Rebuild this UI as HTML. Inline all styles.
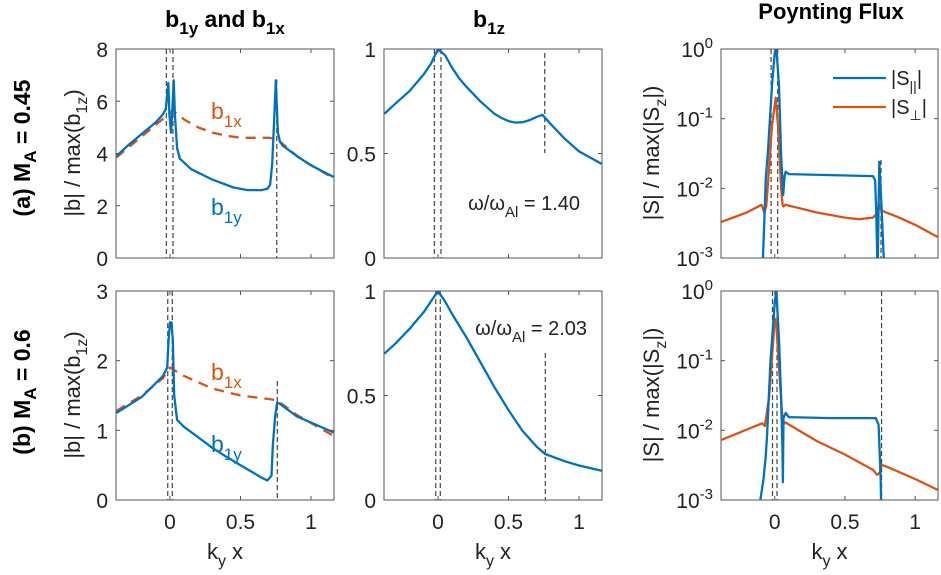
<!DOCTYPE html>
<html><head><meta charset="utf-8">
<style>
html,body{margin:0;padding:0;background:#fff;}
svg{display:block;font-family:"Liberation Sans",sans-serif;}
</style></head>
<body>
<svg id="fig" width="941" height="575" viewBox="0 0 941 575" xmlns="http://www.w3.org/2000/svg">
<g id="static">
<text x="225" y="27" font-size="23" font-weight="bold" text-anchor="middle">b<tspan font-size="17" dy="7">1y</tspan><tspan dy="-7"> and b</tspan><tspan font-size="17" dy="7">1x</tspan></text>
<text x="473" y="27" font-size="23" font-weight="bold">b<tspan font-size="17" dy="7">1z</tspan></text>
<text x="831" y="19" font-size="22" font-weight="bold" text-anchor="middle">Poynting Flux</text>
<text transform="translate(30,148) rotate(-90)" font-size="23" font-weight="bold" text-anchor="middle">(a) M<tspan font-size="17" dy="6">A</tspan><tspan dy="-6"> = 0.45</tspan></text>
<text transform="translate(30,392) rotate(-90)" font-size="23" font-weight="bold" text-anchor="middle">(b) M<tspan font-size="17" dy="6">A</tspan><tspan dy="-6"> = 0.6</tspan></text>
</g>
<g id="plots"></g>
</svg>
<script>
// ---- data ----
const xA_b1y=[-0.38,-0.3,-0.2,-0.1,-0.05,-0.03,-0.012,-0.004,0.007,0.015,0.026,0.035,0.05,0.07,0.15,0.3,0.45,0.55,0.65,0.69,0.71,0.725,0.74,0.75,0.765,0.78,0.8,0.9,1.0,1.16];
const yA_b1y=[3.9,4.3,4.75,5.2,5.5,5.7,6.7,5.5,4.8,5.5,6.8,5.5,4.2,3.8,3.4,3.0,2.7,2.6,2.6,2.65,2.8,3.6,5.5,6.8,4.8,4.45,4.3,3.9,3.55,3.1];
const xA_b1x=[-0.38,-0.2,-0.1,0,0.02,0.1,0.2,0.3,0.4,0.5,0.7,0.76,0.9,1.0,1.16];
const yA_b1x=[3.85,4.65,5.1,5.55,5.65,5.3,5.0,4.8,4.68,4.6,4.6,4.55,3.9,3.55,3.05];
const xA_b1z=[-0.38,-0.3,-0.2,-0.1,-0.05,0,0.05,0.1,0.15,0.2,0.3,0.4,0.45,0.5,0.55,0.6,0.65,0.7,0.74,0.8,0.9,1.0,1.16];
const yA_b1z=[0.69,0.74,0.8,0.88,0.93,1.0,0.97,0.91,0.86,0.82,0.75,0.69,0.67,0.655,0.648,0.65,0.66,0.675,0.685,0.64,0.57,0.51,0.45];
const xA_Spar=[-0.09,-0.075,-0.064,-0.05,-0.02,0.0,0.012,0.03,0.045,0.06,0.07,0.078,0.1,0.4,0.7,0.715,0.723,0.733,0.745,0.76,0.775,0.79];
const yA_Spar=[0.0005,0.003,0.014,0.03,0.3,0.9,1.0,0.3,0.03,0.008,0.015,0.0173,0.016,0.0155,0.015,0.013,0.005,0.0006,0.024,0.006,0.0012,0.0004];
const xA_Sperp=[-0.38,-0.2,-0.094,-0.075,-0.06,-0.04,-0.02,0.007,0.025,0.045,0.055,0.06,0.075,0.3,0.5,0.6,0.7,0.72,0.745,0.76,0.9,1.0,1.16];
const yA_Sperp=[0.0033,0.0045,0.0058,0.0045,0.0055,0.02,0.08,0.2,0.07,0.01,0.006,0.0055,0.0058,0.0045,0.0038,0.0036,0.0038,0.0042,0.0058,0.0048,0.0037,0.003,0.002];
const xB_b1y=[-0.38,-0.2,-0.05,-0.02,-0.01,0,0.01,0.02,0.03,0.05,0.1,0.2,0.3,0.4,0.5,0.6,0.65,0.69,0.72,0.73,0.745,0.76,0.78,0.9,1.16];
const yB_b1y=[1.25,1.48,1.78,1.9,2.3,2.55,2.55,2.3,1.5,1.15,1.05,0.9,0.75,0.62,0.5,0.38,0.32,0.28,0.35,0.8,1.2,1.4,1.38,1.2,0.97];
const xB_b1x=[-0.38,-0.2,-0.05,0,0.1,0.3,0.5,0.7,0.76,0.9,1.16];
const yB_b1x=[1.28,1.5,1.75,1.9,1.78,1.6,1.5,1.45,1.43,1.22,0.92];
const xB_b1z=[-0.38,-0.3,-0.2,-0.1,0,0.05,0.1,0.2,0.3,0.4,0.5,0.6,0.7,0.76,0.9,1.0,1.16];
const yB_b1z=[0.7,0.75,0.82,0.9,1.0,0.95,0.89,0.78,0.66,0.54,0.43,0.33,0.255,0.22,0.185,0.165,0.14];
const xB_Spar=[-0.106,-0.08,-0.065,-0.055,-0.03,0,0.012,0.03,0.045,0.055,0.058,0.062,0.078,0.1,0.4,0.72,0.74,0.755,0.76];
const yB_Spar=[0.0009,0.002,0.004,0.008,0.1,0.7,1.0,0.2,0.03,0.005,0.0018,0.015,0.0178,0.0155,0.015,0.015,0.012,0.002,0.0005];
const xB_Sperp=[-0.38,-0.09,-0.07,-0.04,0,0.01,0.03,0.05,0.06,0.075,0.3,0.5,0.7,0.73,0.75,0.76,0.8,1.0,1.16];
const yB_Sperp=[0.0073,0.0126,0.0115,0.03,0.4,0.35,0.08,0.02,0.012,0.013,0.007,0.0045,0.0027,0.0023,0.0025,0.0032,0.003,0.002,0.0014];
const xTickVals=[0,0.5,1];
const xTickLabels=["0","0.5","1"];
const yTicksLeftA=[0,2,4,6,8];
const yTicksLeftB=[0,1,2,3];
const yTicksMid=[0,0.5,1];
const yTicksLog=[0,-1,-2,-3];

const NS="http://www.w3.org/2000/svg";
const root=document.getElementById('plots');
const BLUE="#0072BD", RED="#D95319";
const XMIN=-0.383, XMAX=1.163;
const TF=21;
function mk(tag,attrs,parent){const e=document.createElementNS(NS,tag);for(const k in attrs)e.setAttribute(k,attrs[k]);(parent||root).appendChild(e);return e;}

function panel(id,L,R,T,B,ymin,ymax,log){
  const g=mk('g',{});
  
  
  const sx=v=>L+(v-XMIN)/(XMAX-XMIN)*(R-L);
  const sy=v=>{const t=log?Math.log10(v):v;return B-(t-ymin)/(ymax-ymin)*(B-T);};
  const cp=mk('clipPath',{id:'cp-'+id},g);
  mk('rect',{x:L,y:T,width:R-L,height:B-T},cp);
  const inner=mk('g',{'clip-path':'url(#cp-'+id+')'},g);
  return {g,inner,sx,sy,L,R,T,B,log};
}
function axes(p,yt,ylabels,showX){
  const box=mk('rect',{x:p.L,y:p.T,width:p.R-p.L,height:p.B-p.T,fill:'none',stroke:'#555','stroke-width':1},p.g);
  
  
  xTickVals.forEach((v,i)=>{const x=p.sx(v);
    mk('line',{x1:x,x2:x,y1:p.B,y2:p.B-4,stroke:'#555'},p.g);
    mk('line',{x1:x,x2:x,y1:p.T,y2:p.T+4,stroke:'#555'},p.g);
    if(showX){const t=mk('text',{x:x,y:p.B+29,'font-size':TF,'text-anchor':'middle',fill:'#222'},p.g);t.textContent=xTickLabels[i];
      
      }
  });
  yt.forEach((v,i)=>{const y=p.log?p.B-(v-(-3))/3*(p.B-p.T):p.sy(v);
    mk('line',{x1:p.L,x2:p.L+4,y1:y,y2:y,stroke:'#555'},p.g);
    mk('line',{x1:p.R,x2:p.R-4,y1:y,y2:y,stroke:'#555'},p.g);
    const t=mk('text',{x:p.L-8,y:y+8,'font-size':TF,'text-anchor':'end',fill:'#222'},p.g);
    if(p.log){t.textContent='10';const s=mk('tspan',{'font-size':15,dy:-9},t);s.textContent=String(v);}
    else t.textContent=ylabels[i];
    
    
  });
  if(showX){const t=mk('text',{x:(p.L+p.R)/2,y:p.B+59,'font-size':22,'text-anchor':'middle',fill:'#222'},p.g);
    t.textContent='k';const s=mk('tspan',{'font-size':16,dy:7},t);s.textContent='y';const s2=mk('tspan',{dy:-7},t);s2.textContent=' x';
    
    }
}
function line(p,xs,ys,color,dash,name){
  const d=xs.map((x,i)=>(i?'L':'M')+p.sx(x).toFixed(1)+','+p.sy(ys[i]).toFixed(1)).join('');
  const e=mk('path',{d:d,fill:'none',stroke:color,'stroke-width':2.3,'stroke-linejoin':'round'},p.inner);
  if(dash)e.setAttribute('stroke-dasharray',dash);
  
  
}
function vdash(p,x,y1,y2){const e=mk('line',{x1:p.sx(x),x2:p.sx(x),y1:y1,y2:y2,stroke:'#444','stroke-width':1.2,'stroke-dasharray':'5,3'},p.inner);
  
  }
function ylab(x,y,txt,sub,tail){const t=mk('text',{transform:`translate(${x},${y}) rotate(-90)`,'font-size':22,'text-anchor':'middle',fill:'#222'});
  t.textContent=txt;const s=mk('tspan',{'font-size':16,dy:7},t);s.textContent=sub;const s2=mk('tspan',{dy:-7},t);s2.textContent=tail;
  
  }
function label(x,y,main,sub,color,name){const t=mk('text',{x:x,y:y,'font-size':23,fill:color});t.textContent=main;const s=mk('tspan',{'font-size':17,dy:8},t);s.textContent=sub;
  
  }
function omega(x,y,val){const t=mk('text',{x:x,y:y,'font-size':20,'text-anchor':'end',fill:'#222'});
  t.textContent='\u03c9/\u03c9';const s=mk('tspan',{'font-size':15,dy:7},t);s.textContent='Al';const s2=mk('tspan',{dy:-7},t);s2.textContent=' = '+val;
  
  }

// row a
let p=panel('panel-a-b1y-b1x',116,334,49,258,0,8,false);
vdash(p,-0.026,49,258);vdash(p,0.021,49,258);vdash(p,0.757,80,258);
line(p,xA_b1x,yA_b1x,RED,'10,7','b1x-line');line(p,xA_b1y,yA_b1y,BLUE,null,'b1y-line');
axes(p,yTicksLeftA,yTicksLeftA.map(String),false);
label(211,119,'b','1x',RED,'b1x-label');label(211,215,'b','1y',BLUE,'b1y-label');
ylab(80,153,'|b| / max(b','1z',')');

p=panel('panel-a-b1z',384,602,49,258,0,1,false);
vdash(p,-0.026,49,258);vdash(p,0.021,49,258);vdash(p,0.757,53,153);
line(p,xA_b1z,yA_b1z,BLUE,null,'b1z-line');
axes(p,yTicksMid,['0','0.5','1'],false);
omega(580,210,'1.40');

p=panel('panel-a-poynting',721,938,49,258,-3,0,true);
vdash(p,-0.026,49,258);vdash(p,0.021,49,258);vdash(p,0.757,160,258);
line(p,xA_Sperp,yA_Sperp,RED,null,'s-perp-line');line(p,xA_Spar,yA_Spar,BLUE,null,'s-par-line');
axes(p,yTicksLog,null,false);
ylab(659,153,'|S| / max(|S','z','|)');
let lg=mk('g',{});


mk('line',{x1:833,x2:886,y1:78,y2:78,stroke:BLUE,'stroke-width':2.3},lg);
mk('line',{x1:833,x2:886,y1:107,y2:107,stroke:RED,'stroke-width':2.3},lg);
let lt=mk('text',{x:891,y:85,'font-size':20,fill:'#222'},lg);lt.textContent='|S';let ls=mk('tspan',{'font-size':14,dy:6},lt);ls.textContent='||';let ls2=mk('tspan',{dy:-6},lt);ls2.textContent='|';
lt=mk('text',{x:891,y:114,'font-size':20,fill:'#222'},lg);lt.textContent='|S';ls=mk('tspan',{'font-size':14,dy:6},lt);ls.textContent='\u22a5';ls2=mk('tspan',{dy:-6},lt);ls2.textContent='|';

// row b
p=panel('panel-b-b1y-b1x',116,334,291,500,0,3,false);
vdash(p,-0.016,291,500);vdash(p,0.016,291,500);vdash(p,0.761,381,500);
line(p,xB_b1x,yB_b1x,RED,'10,7','b1x-line');line(p,xB_b1y,yB_b1y,BLUE,null,'b1y-line');
axes(p,yTicksLeftB,yTicksLeftB.map(String),true);
label(211,380,'b','1x',RED,'b1x-label');label(211,452,'b','1y',BLUE,'b1y-label');
ylab(80,395,'|b| / max(b','1z',')');

p=panel('panel-b-b1z',384,602,291,500,0,1,false);
vdash(p,-0.016,291,500);vdash(p,0.016,291,500);vdash(p,0.761,353,500);
line(p,xB_b1z,yB_b1z,BLUE,null,'b1z-line');
axes(p,yTicksMid,['0','0.5','1'],true);
omega(587,335,'2.03');

p=panel('panel-b-poynting',721,938,291,500,-3,0,true);
vdash(p,-0.016,291,500);vdash(p,0.016,291,500);vdash(p,0.761,291,500);
line(p,xB_Sperp,yB_Sperp,RED,null,'s-perp-line');line(p,xB_Spar,yB_Spar,BLUE,null,'s-par-line');
axes(p,yTicksLog,null,true);
ylab(659,395,'|S| / max(|S','z','|)');
</script>
</body></html>
